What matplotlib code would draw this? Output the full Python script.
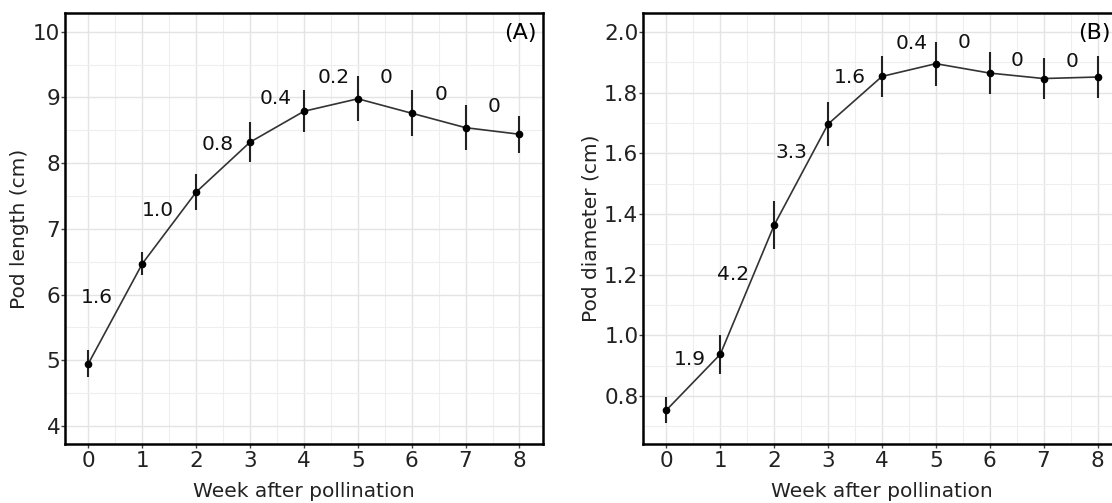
import numpy as np
import matplotlib
matplotlib.use('Agg')
import matplotlib.pyplot as plt
from matplotlib.ticker import MultipleLocator

# data
weeks = [0, 1, 2, 3, 4, 5, 6, 7, 8]

length_mean = [4.95, 6.47, 7.56, 8.32, 8.79, 8.98, 8.76, 8.54, 8.44]
length_err = [0.20, 0.18, 0.28, 0.30, 0.32, 0.34, 0.35, 0.34, 0.28]
length_notes = ['1.6', '1.0', '0.8', '0.4', '0.2', '0', '0', '0']
length_note_x = [0.16, 1.28, 2.40, 3.47, 4.55, 5.53, 6.54, 7.53]
length_note_y = [5.95, 7.28, 8.28, 8.99, 9.31, 9.30, 9.04, 8.86]

diam_mean = [0.754, 0.938, 1.364, 1.697, 1.854, 1.896, 1.865, 1.847, 1.852]
diam_err = [0.043, 0.065, 0.079, 0.072, 0.067, 0.072, 0.069, 0.069, 0.069]
diam_notes = ['1.9', '4.2', '3.3', '1.6', '0.4', '0', '0', '0']
diam_note_x = [0.43, 1.24, 2.31, 3.40, 4.55, 5.52, 6.51, 7.52]
diam_note_y = [0.921, 1.202, 1.602, 1.851, 1.963, 1.965, 1.905, 1.902]

plt.rcParams['font.family'] = 'DejaVu Sans'

fig = plt.figure(figsize=(11.12, 5.03), dpi=100)
axA = fig.add_axes([0.0587, 0.1167, 0.4293, 0.858])
axB = fig.add_axes([0.5785, 0.1167, 0.4293, 0.858])


def style(ax, ylab, ylim, major, minor, fmt):
    ax.set_xlim(-0.43, 8.43)
    ax.set_ylim(*ylim)
    ax.xaxis.set_major_locator(MultipleLocator(1))
    ax.xaxis.set_minor_locator(MultipleLocator(0.5))
    ax.yaxis.set_major_locator(MultipleLocator(major))
    ax.yaxis.set_minor_locator(MultipleLocator(minor))
    ax.yaxis.set_major_formatter(fmt)
    ax.grid(which='major', color='#e4e4e4', lw=1.0)
    ax.grid(which='minor', color='#eeeeee', lw=0.8)
    ax.set_axisbelow(True)
    for s in ax.spines.values():
        s.set_linewidth(1.8)
        s.set_color('black')
    ax.tick_params(which='major', labelsize=15.5, length=3, width=1, pad=2,
                   color='#444444', labelcolor='#222222')
    ax.tick_params(axis='y', which='major', pad=0.5)
    ax.tick_params(which='minor', length=0)
    ax.set_xlabel('Week after pollination', fontsize=14.5, color='#222222', labelpad=8)
    ax.set_ylabel(ylab, fontsize=14.5, color='#222222', labelpad=3)


style(axA, 'Pod length (cm)', (3.72, 10.29), 1, 0.5, '{x:.0f}')
style(axB, 'Pod diameter (cm)', (0.641, 2.064), 0.2, 0.1, '{x:.1f}')

for ax, m, e, notes, nx, ny in [
        (axA, length_mean, length_err, length_notes, length_note_x, length_note_y),
        (axB, diam_mean, diam_err, diam_notes, diam_note_x, diam_note_y)]:
    ax.errorbar(weeks, m, yerr=e, color='#333333', ecolor='#222222', lw=1.2,
                elinewidth=1.5, marker='o', ms=4.5, mfc='black', mec='black', capsize=0)
    for t, x, y in zip(notes, nx, ny):
        ax.text(x, y, t, fontsize=14.5, color='#111111', ha='center', va='center')

axA.text(0.988, 0.953, '(A)', transform=axA.transAxes, fontsize=16, ha='right', va='center')
axB.text(0.979, 0.953, '(B)', transform=axB.transAxes, fontsize=16, ha='right', va='center')

fig.savefig('out.png', dpi=100)
